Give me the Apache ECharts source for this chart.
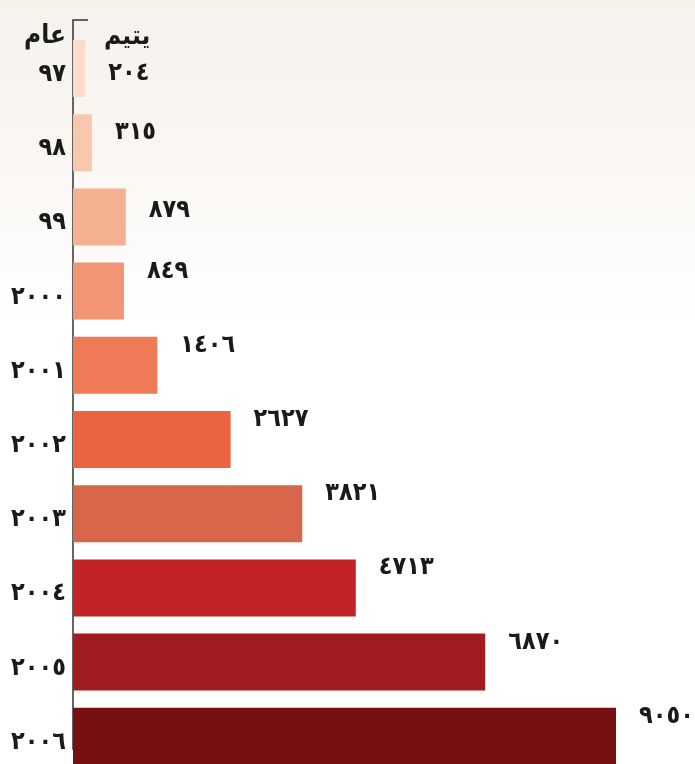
<!DOCTYPE html>
<html>
<head>
<meta charset="utf-8">
<script src="https://cdn.jsdelivr.net/npm/echarts@6/dist/echarts.min.js"></script>
<style>html,body{margin:0;padding:0;background:#fff}#c{width:695px;height:764px}</style>
</head>
<body>
<div id="c"></div>
<script>
const years = ['٩٧','٩٨','٩٩','٢٠٠٠','٢٠٠١','٢٠٠٢','٢٠٠٣','٢٠٠٤','٢٠٠٥','٢٠٠٦'];
const orphans = [204, 315, 879, 849, 1406, 2627, 3821, 4713, 6870, 9050];
const barColors = ['#fbdccb','#f9c6ae','#f5b092','#f19574','#ef7a57','#ec6341','#d8664a','#c12327','#a01c21','#771013'];
const yearHeader = 'عام';
const valueHeader = 'يتيم';

const toArabicDigits = n => String(n).replace(/[0-9]/g, d => '٠١٢٣٤٥٦٧٨٩'[d]);
const FONT = '"DejaVu Sans Condensed", "DejaVu Sans", sans-serif';
const labelDy = i => (i === 0 ? 5 : i === 1 ? -10 : i === 2 ? -6 : -20);

const chart = echarts.init(document.getElementById('c'));
chart.setOption({
  backgroundColor: {
    type: 'linear', x: 0, y: 0, x2: 0, y2: 1,
    colorStops: [
      {offset: 0, color: '#f5f1eb'},
      {offset: 0.2, color: '#faf7f3'},
      {offset: 0.44, color: '#ffffff'},
      {offset: 1, color: '#ffffff'}
    ]
  },
  animation: false,
  grid: {left: 73, width: 600, top: 31.4, height: 742, containLabel: false, outerBoundsMode: 'none'},
  xAxis: {
    type: 'value', min: 0, max: 10000, show: false
  },
  yAxis: {
    type: 'category', inverse: true, data: years,
    axisLine: {show: false}, axisTick: {show: false},
    axisLabel: {
      margin: 7, color: '#1a1a1a', fontFamily: FONT, fontSize: 25, fontWeight: 'bold',
      verticalAlign: 'top', lineHeight: 12
    }
  },
  series: [{
    type: 'bar',
    barWidth: 57,
    data: orphans.map((v, i) => ({
      value: v,
      itemStyle: {color: barColors[i]},
      label: {offset: [18, labelDy(i)]}
    })),
    label: {
      show: true, position: 'right',
      formatter: p => toArabicDigits(p.value),
      color: '#1a1a1a', fontFamily: FONT, fontSize: 25, fontWeight: 'bold'
    }
  }],
  graphic: [
    {type: 'polyline', shape: {points: [[88, 20], [73, 20], [73, 749], [88, 749]]},
     style: {stroke: '#333', lineWidth: 1.5, fill: null}},
    {type: 'text', right: 695 - 66, top: 23,
     style: {text: yearHeader, fill: '#1a1a1a', font: 'bold 26px ' + FONT, textAlign: 'right'}},
    {type: 'text', left: 104, top: 24,
     style: {text: valueHeader, fill: '#1a1a1a', font: 'bold 26px ' + FONT}}
  ]
});
</script>
</body>
</html>
